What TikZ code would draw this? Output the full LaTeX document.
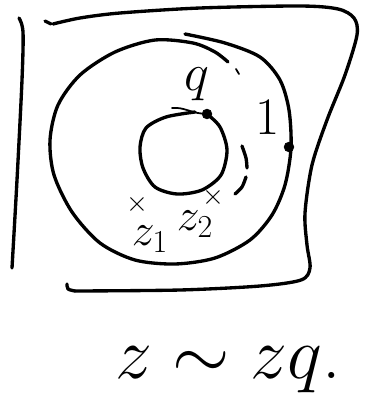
\documentclass[tikz,border=0pt]{standalone}
\usepackage{fix-cm}
\usepackage{amsmath,amssymb}
\usepackage{tikz}
\begin{document}
\begin{tikzpicture}[x=0.02cm,y=-0.02cm]
  \tikzset{sketchline/.style={draw=black,line width=1.9pt,line cap=round,line join=round}}
  \tikzset{thinline/.style={draw=black,line width=1pt,line cap=round}}
  \tikzset{markdot/.style={circle,fill=black,draw=black,inner sep=0pt,minimum size=5.5pt}}
  \tikzset{crossmark/.style={font=\fontsize{16}{16}\selectfont,inner sep=0pt}}
  \tikzset{ptlabel/.style={font=\fontsize{30}{30}\selectfont,inner sep=0pt}}
  \tikzset{zlabel/.style={font=\fontsize{26}{26}\selectfont,inner sep=0pt}}
  \tikzset{caption/.style={font=\fontsize{42}{42}\selectfont,inner sep=0pt}}
  \useasboundingbox (0,0) rectangle (365,406);
  % the region
  \draw[sketchline] plot[smooth] coordinates {(19,18) (23,32) (22,80) (17,180) (12,268)};
  \draw[sketchline] (45,21) -- (51,24);
  \draw[sketchline] plot[smooth] coordinates {(53,24) (80,18) (120,13) (200,8) (300,6) (338,9) (354,18) (357,35)
    (345,75) (327,120) (312,165) (305,213) (307,245) (310,268) (301,280) (260,286) (180,290) (75,291)};
  \draw[sketchline] plot[smooth] coordinates {(75,291) (68,289) (67,284)};
  % the annulus
  \draw[sketchline] plot[smooth] coordinates {(185,34) (225,43) (260,57) (280,80) (289,110) (291,148) (285,185)
    (272,215) (250,240) (215,258) (175,264) (135,260) (100,243) (72,212) (54,175) (50,140) (58,105) (80,75)
    (115,52) (155,40) (193,43) (215,52) (228,62)};
  \draw[thinline] (236,69) -- (239,74);
  \draw[sketchline] plot[smooth] coordinates {(207,114) (220,127) (227,150) (221,175) (202,190) (177,194)
    (155,187) (143,168) (140,147) (146,128) (166,117) (195,112)};
  \draw[sketchline] plot[smooth] coordinates {(242,146) (246,158) (247,168)};
  \draw[sketchline] plot[smooth] coordinates {(246,177) (242,187) (235,194)};
  \node[markdot] (qdot) at (207,114) {};
  \node[markdot] (onedot) at (289,147) {};
  \coordinate (qtail) at (172,108);
  \draw[thinline] (qtail) to[out=5,in=175] (qdot);
  \node[ptlabel] (qlabel) at (197,84) {$q$};
  \node[ptlabel] (onelabel) at (268,118) {$1$};
  % the two points
  \node[crossmark] (zonex) at (137,204) {$\times$};
  \node[zlabel] (zone) at (150,239) {$z_1$};
  \node[crossmark] (ztwox) at (213,197) {$\times$};
  \node[zlabel] (ztwo) at (195,224) {$z_2$};
  % the relation
  \node[caption,anchor=base] (rel) at (228,378) {$z\sim zq$.};
\end{tikzpicture}
\end{document}
